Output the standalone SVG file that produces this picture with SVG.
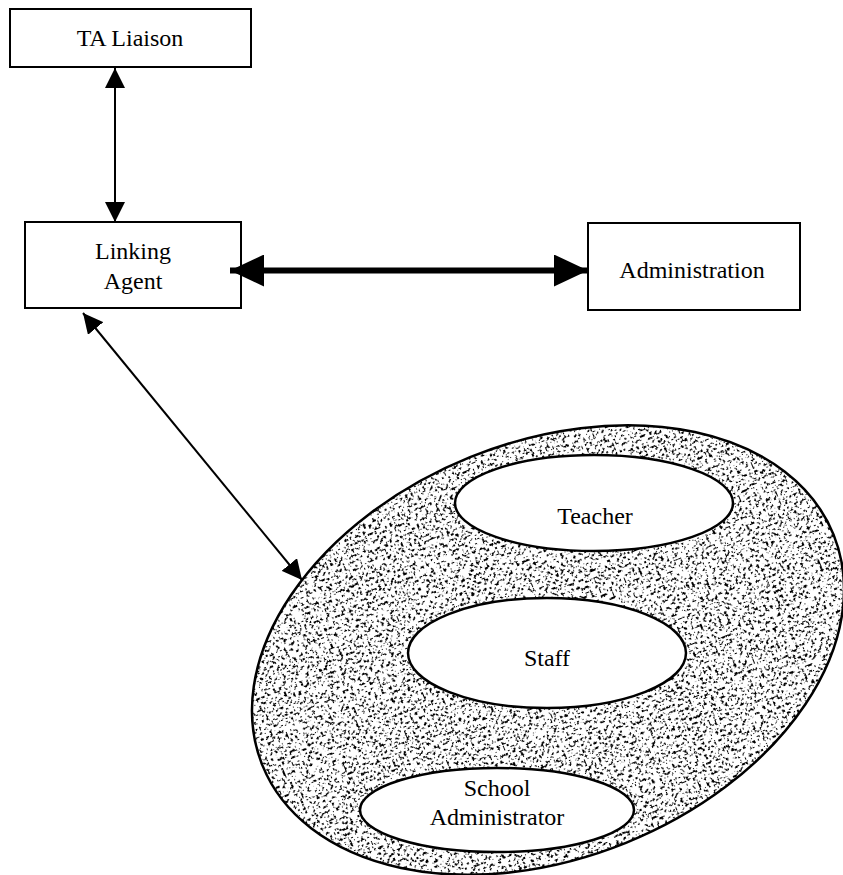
<svg xmlns="http://www.w3.org/2000/svg" width="843" height="875" viewBox="0 0 843 875">
  <style>
    .box { fill: #ffffff; stroke: #000000; stroke-width: 2; }
    .oval { fill: #ffffff; stroke: #000000; stroke-width: 2.5; }
    .label { font-family: "Liberation Serif", "Times New Roman", serif; font-size: 24px; fill: #000000; text-anchor: middle; }
    .thin { stroke: #000000; stroke-width: 2; fill: none; }
    .thick { stroke: #000000; stroke-width: 6; fill: none; }
  </style>
  <defs>
    <marker id="headThin" viewBox="0 0 20 20" refX="20" refY="10" markerWidth="20" markerHeight="20" markerUnits="userSpaceOnUse" orient="auto-start-reverse">
      <path d="M0,0 L20,10 L0,20 z" fill="#000000"/>
    </marker>
    <marker id="headThick" viewBox="0 0 34 32" refX="34" refY="16" markerWidth="34" markerHeight="32" markerUnits="userSpaceOnUse" orient="auto-start-reverse">
      <path d="M0,0 L34,16 L0,32 z" fill="#000000"/>
    </marker>
    <!-- speckled fill for the school community region -->
    <filter id="stipple" x="0" y="0" width="1" height="1" filterUnits="objectBoundingBox">
      <feTurbulence type="fractalNoise" baseFrequency="0.36" numOctaves="3" seed="11" result="noise"/>
      <feColorMatrix in="noise" type="matrix" values="0 0 0 0 0  0 0 0 0 0  0 0 0 0 0  -25 0 0 0 10.1" result="dots"/>
      <feComposite in="dots" in2="SourceGraphic" operator="in"/>
    </filter>
  </defs>

  <g id="ta-liaison">
    <rect class="box" x="10" y="9" width="241" height="58"/>
    <text class="label" x="130" y="46">TA Liaison</text>
  </g>

  <g id="linking-agent">
    <rect class="box" x="25" y="222" width="216" height="86"/>
    <text class="label" x="133" y="259">Linking</text>
    <text class="label" x="133" y="289">Agent</text>
  </g>

  <g id="administration">
    <rect class="box" x="588" y="223" width="212" height="87"/>
    <text class="label" x="692" y="278">Administration</text>
  </g>

  <g id="school-community">
    <g transform="translate(548 650) rotate(-22)">
      <ellipse cx="0" cy="0" rx="308" ry="208" fill="#ffffff"/>
      <ellipse cx="0" cy="0" rx="308" ry="208" fill="#000000" filter="url(#stipple)"/>
      <ellipse cx="0" cy="0" rx="308" ry="208" fill="none" stroke="#000000" stroke-width="2.5"/>
    </g>
    <g id="teacher">
      <ellipse class="oval" cx="594" cy="503" rx="139" ry="48"/>
      <text class="label" x="595" y="524">Teacher</text>
    </g>
    <g id="staff">
      <ellipse class="oval" cx="547" cy="653" rx="139" ry="55"/>
      <text class="label" x="547" y="666">Staff</text>
    </g>
    <g id="school-administrator">
      <ellipse class="oval" cx="497" cy="810" rx="137" ry="42"/>
      <text class="label" x="497" y="796">School</text>
      <text class="label" x="497" y="825">Administrator</text>
    </g>
  </g>

  <g id="connectors">
    <line class="thin" x1="115" y1="68" x2="115" y2="222" marker-start="url(#headThin)" marker-end="url(#headThin)"/>
    <line class="thick" x1="230" y1="270.5" x2="588" y2="270.5" marker-start="url(#headThick)" marker-end="url(#headThick)"/>
    <line class="thin" x1="83" y1="313" x2="302" y2="580" marker-start="url(#headThin)" marker-end="url(#headThin)"/>
  </g>
</svg>
